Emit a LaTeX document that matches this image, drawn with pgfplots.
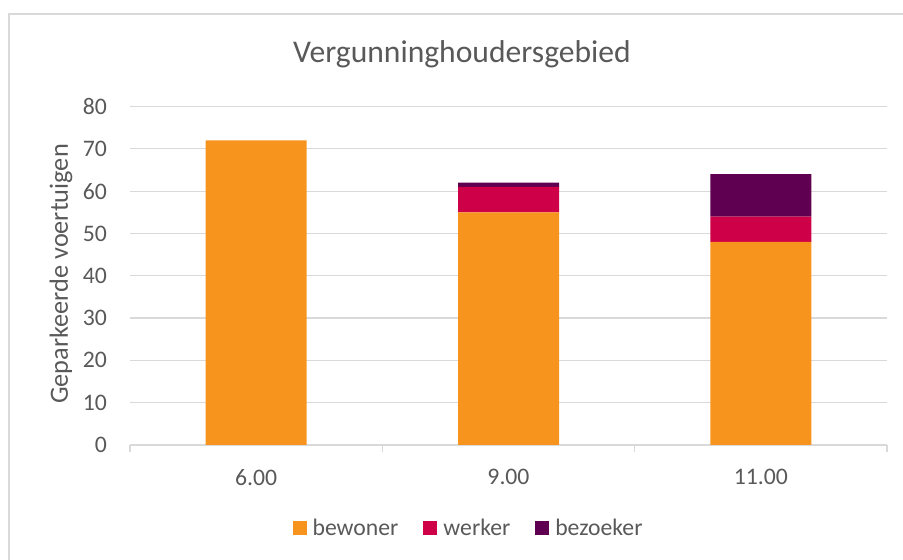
\documentclass[border=0pt]{standalone}
\usepackage{fontspec}
\setmainfont{Carlito}
\usepackage{pgfplots}
\pgfplotsset{compat=1.18}
\definecolor{orangeb}{RGB}{247,148,30}
\definecolor{redw}{RGB}{206,0,71}
\definecolor{purpz}{RGB}{96,0,80}
\definecolor{txt}{RGB}{89,89,89}
\definecolor{gridc}{RGB}{217,217,217}
\begin{document}
\begin{tikzpicture}
\path[use as bounding box] (0pt,0pt) rectangle (903pt,560pt);
\draw[gridc, line width=1.5pt] (9pt,0pt) -- (9pt,546pt) -- (903pt,546pt);
\node[anchor=base, text=txt, font=\fontsize{31.6}{38}\selectfont, inner sep=0pt] at (462pt,497pt) {Vergunninghoudersgebied};
\begin{axis}[
  at={(130pt,115pt)}, anchor=south west,
  scale only axis, width=757pt, height=338.5pt,
  ybar stacked, bar width=101pt,
  xmin=-0.5, xmax=2.5, ymin=0, ymax=80,
  ytick={0,10,...,80},
  xtick={0,1,2}, xticklabels={6.00,9.00,11.00},
  minor xtick={-0.5,0.5,1.5,2.5},
  major tick length=0pt, minor tick length=7pt, tick align=outside,
  minor x tick style={draw=gridc, line width=1.2pt},
  major tick style={draw=none},
  axis x line*=bottom, axis y line*=left,
  x axis line style={-, draw=gridc, line width=1.2pt},
  y axis line style={draw=none},
  ymajorgrids, major grid style={draw=gridc, line width=1.2pt},
  /pgf/number format/assume math mode=true,
  tick label style={font=\fontsize{23.7}{28}\selectfont, text=txt, inner sep=0pt},
  yticklabel style={anchor=east, xshift=-23pt},
  xticklabel style={anchor=north, yshift=-24pt},
  ylabel={Geparkeerde voertuigen},
  ylabel style={at={(axis description cs:-0.0911,0.505)}, anchor=center, font=\fontsize{26.3}{32}\selectfont, text=txt},
  legend image code/.code={\fill[#1] (0pt,-6pt) rectangle (14pt,8pt);},
  legend style={at={(axis description cs:0.4459,-0.2467)}, anchor=center, draw=none, fill=none,
    legend columns=3, inner sep=0pt, font=\fontsize{23.7}{28}\selectfont, text=txt,
    nodes={inner sep=0pt},
    /tikz/every even column/.append style={column sep=25pt},
    /tikz/every odd column/.append style={column sep=6pt}},
]
\addplot[fill=orangeb, draw=none] coordinates {(0,72) (1,55) (2,48)};
\addplot[fill=redw, draw=none] coordinates {(0,0) (1,6) (2,6)};
\addplot[fill=purpz, draw=none] coordinates {(0,0) (1,1) (2,10)};
\legend{bewoner, werker, bezoeker}
\end{axis}
\end{tikzpicture}
\end{document}
